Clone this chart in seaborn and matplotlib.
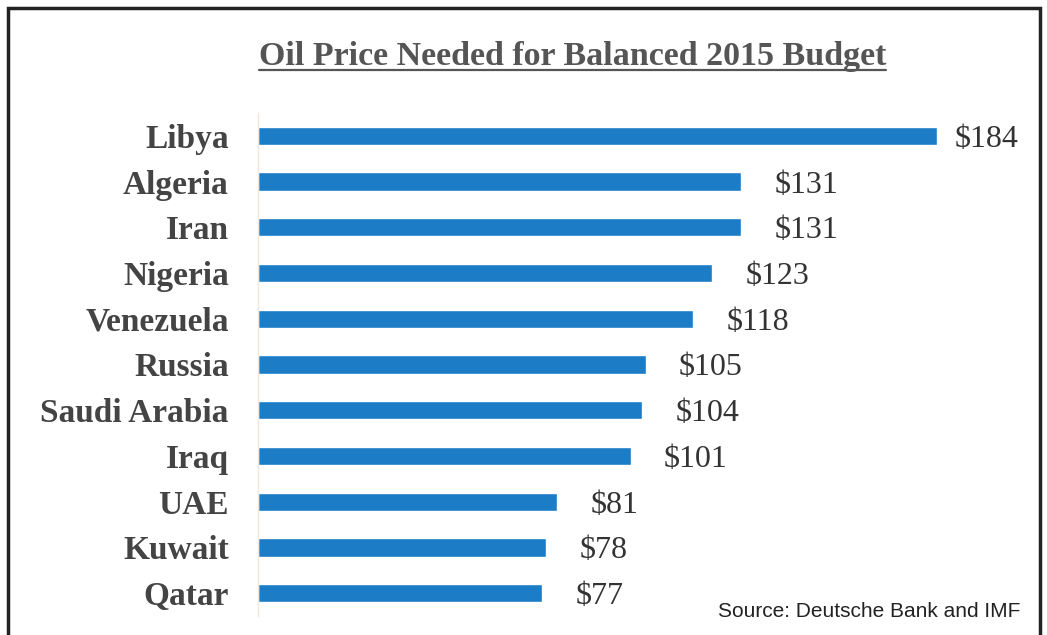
import seaborn as sns
import pandas as pd
import matplotlib.pyplot as plt
from matplotlib.lines import Line2D
from matplotlib.patches import Rectangle

sns.set_style("white")
plt.rcParams['font.family'] = ['Liberation Serif', 'DejaVu Serif']

countries = ["Libya", "Algeria", "Iran", "Nigeria", "Venezuela", "Russia",
             "Saudi Arabia", "Iraq", "UAE", "Kuwait", "Qatar"]
prices = [184, 131, 131, 123, 118, 105, 104, 101, 81, 78, 77]
title = "Oil Price Needed for Balanced 2015 Budget"
source = "Source: Deutsche Bank and IMF"

df = pd.DataFrame({"country": countries, "price": prices})

fig = plt.figure(figsize=(10.47, 6.35), dpi=100)
ax = fig.add_axes([0.2464, 0.030, 0.705, 0.792])

sns.barplot(data=df, y="country", x="price", color="#1c7dc6",
            width=0.4, saturation=1, ax=ax)

ax.set_xlim(0, 200)
ax.set_xlabel("")
ax.set_ylabel("")
ax.set_xticks([])
ax.tick_params(axis="y", length=0, pad=21)
for lab in ax.get_yticklabels():
    lab.set_fontsize(24)
    lab.set_fontweight("bold")
    lab.set_color("#444444")

for s in ["top", "right", "bottom"]:
    ax.spines[s].set_visible(False)
ax.spines["left"].set_color("#f3e6da")
ax.spines["left"].set_linewidth(1)

top = max(prices)
for i, v in enumerate(prices):
    off = 13 if v == top else 24
    ax.annotate(f"${v}", (v, i), xytext=(off, 0), textcoords="offset points",
                va="center_baseline", ha="left", fontsize=23, color="#333333")

t = fig.text(0.547, 0.898, title, ha="center", va="baseline",
             fontsize=24.5, fontweight="bold", color="#555555")
fig.text(0.975, 0.028, source, ha="right", va="baseline", fontsize=15,
         color="#222222", family=["Liberation Sans", "DejaVu Sans"])

# underline the title
fig.canvas.draw()
bb = t.get_window_extent().transformed(fig.transFigure.inverted())
fig.add_artist(Line2D([bb.x0, bb.x1], [0.889, 0.889], color="#555555",
                      lw=1.6, transform=fig.transFigure))

# frame around the chart
fig.add_artist(Rectangle((8 / 1047, -0.01), 1032 / 1047, 1 - 8 / 635 + 0.01,
                         transform=fig.transFigure, fill=False,
                         edgecolor="#222222", lw=2.5))

fig.savefig("out.png", dpi=100)
